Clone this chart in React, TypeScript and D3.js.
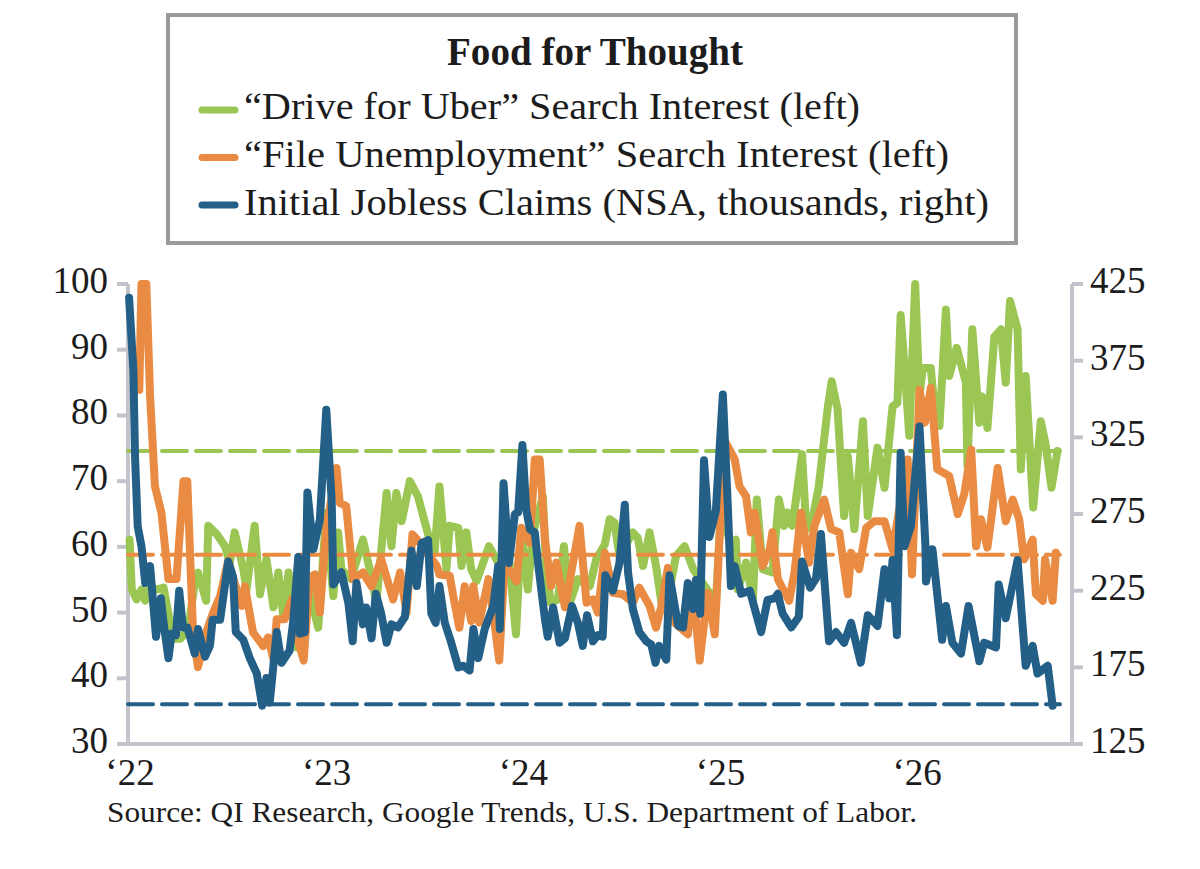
import * as d3 from 'd3'

// [weeks since Jan 2022, value]
const uberSearch: [number, number][] = [
  [0.4, 61.1], [1, 53.5], [2.3, 52], [3.6, 53.5], [4.5, 51.8], [5.8, 54], [7.6, 53.5], [9.4, 53.8], [11.1, 48.5], [12.5, 46],
  [13.8, 46], [16, 47.5], [17.7, 54.6], [18.6, 56.1], [20.7, 51.8], [21.3, 63.2], [23.5, 61.9], [25.7, 60.1], [27, 57.6], [28.3, 62.2],
  [30.6, 56.6], [31.4, 53.5], [33.6, 63.2], [35, 52.8], [36.7, 58.1], [38.5, 50.8], [39.8, 56.1], [41.1, 49.5], [42.5, 56.1], [44.7, 44.7],
  [46.4, 51.5], [48.2, 53], [50.4, 47.7], [52.6, 65.2], [54.4, 52.5], [55.7, 62.2], [56.6, 56.6], [59.2, 55.1], [62.3, 61.1], [64.5, 55.3],
  [65.9, 51.5], [68.5, 68.2], [69.8, 60.1], [71.2, 68.2], [72.5, 63.9], [74.7, 70], [76.9, 67.7], [79.6, 61.9], [81.3, 59.1], [82.6, 69.2],
  [84.4, 56.6], [85.3, 63.2], [87.5, 62.9], [88.4, 57.1], [89.7, 62.2], [91, 56.6], [92.4, 54.8], [95.7, 60.1], [98.1, 57.6], [101.2, 57.6],
  [102.8, 46.7], [104.3, 62.7], [106, 53.5], [107.4, 62.2], [110, 67.7], [110.9, 56.6], [112.2, 51.5], [114, 52], [115.5, 60.1], [117.1, 51.5],
  [119.3, 55.1], [122.4, 54], [124.2, 58.1], [126.4, 60.4], [127.7, 64.2], [129, 63.7], [130.3, 58.6], [133.9, 62.2], [135.2, 61.4], [136.5, 57.1],
  [138.3, 62.2], [140, 57.1], [141.4, 51.5], [144, 54.6], [145.3, 58.6], [147.5, 60.1], [149.8, 56.6], [154.2, 53], [155.9, 51.5], [157.3, 66.7],
  [159.5, 60.6], [161.1, 61.1], [161.7, 53.5], [163.9, 57.6], [165.7, 52], [166.7, 67.2], [168.3, 56.6], [170.9, 56.1], [172.5, 67.2], [174, 63.2],
  [174.9, 65.2], [176.2, 63.2], [178.7, 74.1], [179.8, 62.7], [181.1, 63.2], [183.1, 69.2], [185.5, 81.4], [186.6, 85.2], [188.2, 80.9], [189.9, 64.7],
  [190.8, 73.8], [192.6, 62.7], [194.8, 79.1], [196.1, 64.7], [198.7, 75.1], [200.5, 69], [202.7, 81.4], [204, 81.9], [204.8, 95.3], [205.8, 87.6],
  [207.1, 76.9], [208.7, 100], [209.8, 82.9], [210.7, 87.2], [212.9, 87.2], [213.8, 80.9], [215.1, 78.4], [216.8, 96.1], [217.7, 86], [219.7, 90.3],
  [222.1, 85], [222.6, 72.3], [223.9, 93.1], [225.7, 78.9], [226.4, 82.9], [227.9, 78.1], [229.7, 92], [231.4, 93.1], [232.7, 85], [233.9, 97.4],
  [235.8, 93.1], [236.7, 71.8], [238, 86], [240, 66], [242, 79.1], [243.3, 75.6], [244.9, 69], [246.4, 74.6],
]

const unemploymentSearch: [number, number][] = [
  [3, 83.9], [3.6, 100], [4.9, 100], [5.8, 82.9], [7.2, 69.2], [8.9, 65.2], [10.7, 55.1], [12.9, 55.1], [14.7, 70], [15.7, 70],
  [17.3, 46.5], [18.6, 41.7], [20.4, 46.5], [22.6, 50], [24.4, 52.5], [26.6, 57.9], [27.9, 55.3], [30.1, 51], [31, 54], [33.2, 47],
  [35.9, 44.9], [37.2, 46.2], [38.5, 42.9], [39.4, 49], [41.6, 49], [43.4, 52], [44.7, 46.5], [46.6, 42.7], [48.2, 55.3], [49.5, 55.8],
  [50.9, 50], [52.6, 62.7], [55.3, 72], [56.2, 66.7], [57.9, 66.2], [59.7, 55.1], [62.3, 56.1], [64.5, 54], [67.2, 58.1], [70.3, 52],
  [72.1, 56.1], [73.8, 50], [75.4, 61.9], [77.4, 60.6], [81.8, 57.1], [82.6, 55.8], [85.3, 55.6], [86.2, 52.8], [87.9, 47.7], [89.3, 54],
  [91, 48.7], [91.5, 54], [93.2, 48.5], [95.5, 55.1], [97.2, 48.5], [98.4, 42.7], [99.9, 57.6], [103, 54.8], [104.3, 62.9], [106.5, 60.6],
  [107.8, 73.3], [109.1, 73.3], [110.5, 61.1], [112.2, 54], [113.6, 57.6], [115.8, 50.8], [119.7, 63.2], [121.5, 51.5], [123.3, 52], [124.6, 50],
  [126.4, 59.1], [128.6, 53], [131.2, 52.8], [133.9, 51.5], [135.6, 53.8], [138.3, 51], [140, 47.7], [141.4, 51], [143.1, 56.8], [144.9, 48.5],
  [148.4, 46.7], [149.8, 53.5], [151.5, 42.7], [153.7, 53], [155.5, 46.7], [156.8, 61.7], [158.6, 75.8], [160.8, 73.3], [162.1, 69.2], [163.9, 67.7],
  [165.2, 62.2], [166.1, 65.2], [168.3, 57.1], [170.1, 59.6], [170.9, 62.2], [172.3, 55.1], [175.3, 51.8], [176.7, 56.1], [178.4, 65.2], [180.6, 57.6],
  [182, 63.2], [184.6, 67.2], [186.4, 62.7], [188.6, 62.2], [190.8, 52.8], [191.7, 59.1], [193.9, 56.6], [195.7, 62.9], [197.9, 63.9], [200.5, 63.9],
  [202.7, 59.6], [206.7, 73.3], [207.8, 55.8], [209.8, 83.9], [211.3, 78.9], [212.9, 84.2], [214.6, 71.8], [217.7, 70.8], [220, 65], [221.7, 68],
  [223.5, 74.8], [224.8, 60.1], [226.1, 64.2], [227.9, 59.9], [228.8, 64.2], [230.5, 72], [232.7, 63.9], [234.5, 67.2], [236.3, 64.2], [237.6, 58.1],
  [239.8, 61.1], [240.7, 52.8], [242.5, 51.8], [243.2, 58.1], [245.1, 51.8], [246, 59.1],
]

const joblessClaims: [number, number][] = [
  [0.3, 416], [1.4, 369], [1.9, 313], [2.5, 267], [3.6, 254], [4.5, 230], [5.8, 241], [7.4, 195], [8.7, 220], [9.4, 204],
  [10.7, 181], [11.6, 197], [12.7, 196], [13.5, 225], [14.5, 201], [15.7, 201], [17.7, 184], [18.6, 200], [20.4, 182], [21.7, 189],
  [22.4, 206], [24.4, 206], [26.6, 244], [27.9, 234], [28.6, 198], [30.6, 193], [32.3, 181], [34.1, 171], [35.6, 150], [36.7, 168],
  [37.6, 152], [39.4, 198], [40.7, 178], [42.9, 186], [43.8, 206], [45.1, 247], [45.6, 197], [46.9, 198], [47.5, 289], [49.1, 252],
  [50.9, 271], [52.6, 343], [54, 284], [54.4, 229], [56.6, 237], [58.4, 217], [59.5, 192], [60.6, 230], [62.3, 203], [63.2, 214],
  [64.5, 194], [65.7, 223], [67.2, 210], [68.5, 191], [69.8, 203], [71.6, 201], [73.4, 208], [75.1, 251], [76.6, 228], [77.8, 256],
  [79.6, 258], [80.4, 210], [81.5, 204], [82.6, 228], [84, 204], [85.7, 191], [87.5, 175], [88.8, 176], [90.6, 173], [91.5, 200],
  [92.8, 181], [94.6, 200], [96.8, 215], [98.1, 241], [98.5, 200], [99.6, 295], [101, 243], [102.5, 275], [103.4, 276], [104.5, 320],
  [105.6, 278], [106.5, 265], [107.8, 263], [108.7, 243], [110.5, 206], [111.3, 195], [112.7, 214], [114.4, 191], [115.8, 194], [117.7, 215],
  [119.3, 204], [120.6, 189], [121.7, 209], [123.3, 192], [124.6, 196], [125.9, 195], [126.6, 235], [128.6, 225], [130.3, 243], [131.7, 281],
  [132.5, 237], [133.9, 213], [135.6, 198], [137.4, 192], [138.7, 190], [139.9, 178], [140.9, 189], [142.7, 180], [143.6, 235], [145.8, 202],
  [147.1, 201], [148.4, 230], [149.8, 213], [150.6, 232], [151.7, 210], [152.7, 310], [154.2, 260], [155.9, 277], [157.7, 353], [159, 282],
  [159.9, 228], [160.8, 241], [162.6, 223], [164.8, 225], [167.9, 198], [169.6, 219], [171.4, 220], [172.3, 223], [173.6, 210], [175.8, 201],
  [177.8, 208], [178.7, 244], [180.8, 227], [182.4, 233], [183.7, 262], [185.8, 192], [187.7, 198], [189.9, 191], [191.7, 204], [194.3, 178],
  [196.1, 209], [198.7, 202], [200.5, 239], [201.8, 220], [202.7, 245], [203.8, 196], [204.8, 315], [205.8, 254], [207.6, 267], [209.8, 332],
  [211.4, 254], [211.6, 231], [213.3, 252], [215.8, 193], [216.8, 215], [218.6, 191], [220.8, 184], [222.9, 215], [225.7, 179], [227, 191],
  [230.1, 188], [230.8, 229], [232.7, 207], [235.8, 245], [238, 176], [239.8, 189], [241.1, 171], [243.8, 176], [245.1, 150],
]

const uberAverage = 74.6
const unemploymentAverage = 58.8
const claimsLow = 151

const leftTicks = [30, 40, 50, 60, 70, 80, 90, 100]
const rightTicks = [125, 175, 225, 275, 325, 375, 425]
const legendItems = [
  '“Drive for Uber” Search Interest (left)',
  '“File Unemployment” Search Interest (left)',
  'Initial Jobless Claims (NSA, thousands, right)',
]
const legendWidths = [616, 705, 745]

const GREEN = '#9bc653'
const ORANGE = '#e98b42'
const BLUE = '#235f86'
const AXIS = '#c3c3cb'
const TEXT = '#1c1c1c'
const SERIF = '"Liberation Serif", serif'

const left = 128
const right = 1072
const top = 284
const bottom = 744

const weekDate = (w: number) => new Date(2022, 0, 1 + Math.round(w * 7))

const x = d3.scaleTime().domain([new Date(2022, 0, 1), new Date(2026, 9, 19)]).range([left, right])
const yLeft = d3.scaleLinear().domain([30, 100]).range([bottom, top])
const yRight = d3.scaleLinear().domain([125, 425]).range([bottom, top])

const leftLine = d3.line<[number, number]>().x(d => x(weekDate(d[0]))).y(d => yLeft(d[1]))
const rightLine = d3.line<[number, number]>().x(d => x(weekDate(d[0]))).y(d => yRight(d[1]))

const years = d3.timeYear.range(new Date(2022, 0, 1), new Date(2027, 0, 1))
const lineEnd = 1060

function AverageLine({ y, color }: { y: number; color: string }) {
  return <line x1={left} x2={lineEnd} y1={y} y2={y} stroke={color} strokeWidth={4} strokeDasharray="25 9" />
}

export default function App() {
  return (
    <svg width={1200} height={869} style={{ position: 'absolute', left: 0, top: 0, background: '#fff' }}>
      {/* Legend box */}
      <rect x={168} y={15} width={848} height={228} fill="#fff" stroke="#9a9a9a" strokeWidth={4} />
      <text x={595} y={65} textAnchor="middle" fontFamily={SERIF} fontWeight="bold" fontSize={39} fill={TEXT} textLength={296} lengthAdjust="spacingAndGlyphs">
        Food for Thought
      </text>
      {legendItems.map((label, i) => (
        <g key={label}>
          <line x1={202} x2={235} y1={110 + i * 47.5} y2={110 + i * 47.5} stroke={[GREEN, ORANGE, BLUE][i]} strokeWidth={7} strokeLinecap="round" />
          <text x={244} y={119 + i * 48} fontFamily={SERIF} fontSize={38} fill={TEXT} textLength={legendWidths[i]} lengthAdjust="spacingAndGlyphs">
            {label}
          </text>
        </g>
      ))}

      {/* Axes */}
      <g stroke={AXIS} strokeWidth={4}>
        <line x1={left} x2={left} y1={top} y2={bottom} />
        <line x1={right} x2={right} y1={top} y2={bottom} />
        <line x1={117} x2={1083} y1={bottom} y2={bottom} />
        {leftTicks.map(t => <line key={t} x1={117} x2={left} y1={yLeft(t)} y2={yLeft(t)} />)}
        {rightTicks.map(t => <line key={t} x1={right} x2={1083} y1={yRight(t)} y2={yRight(t)} />)}
      </g>
      {leftTicks.map(t => (
        <text key={t} x={108} y={yLeft(t) + 9} textAnchor="end" fontFamily={SERIF} fontSize={37} fill={TEXT}>{t}</text>
      ))}
      {rightTicks.map(t => (
        <text key={t} x={1090} y={yRight(t) + 9} fontFamily={SERIF} fontSize={37} fill={TEXT}>{t}</text>
      ))}
      {years.map(d => (
        <text key={d.getFullYear()} x={x(d) + 2} y={785} textAnchor="middle" fontFamily={SERIF} fontSize={37} fill={TEXT}>
          ‘{String(d.getFullYear()).slice(2)}
        </text>
      ))}
      <text x={107} y={822} fontFamily={SERIF} fontSize={30} fill={TEXT} textLength={810} lengthAdjust="spacingAndGlyphs">
        Source: QI Research, Google Trends, U.S. Department of Labor.
      </text>

      {/* Series, with their dashed reference lines */}
      <g fill="none" strokeLinejoin="round" strokeLinecap="round">
        <path d={leftLine(uberSearch) ?? ''} stroke={GREEN} strokeWidth={8} />
        <AverageLine y={yLeft(uberAverage)} color={GREEN} />
        <path d={leftLine(unemploymentSearch) ?? ''} stroke={ORANGE} strokeWidth={8} />
        <AverageLine y={yLeft(unemploymentAverage)} color={ORANGE} />
        <path d={rightLine(joblessClaims) ?? ''} stroke={BLUE} strokeWidth={8} />
        <AverageLine y={yRight(claimsLow)} color={BLUE} />
      </g>
    </svg>
  )
}
